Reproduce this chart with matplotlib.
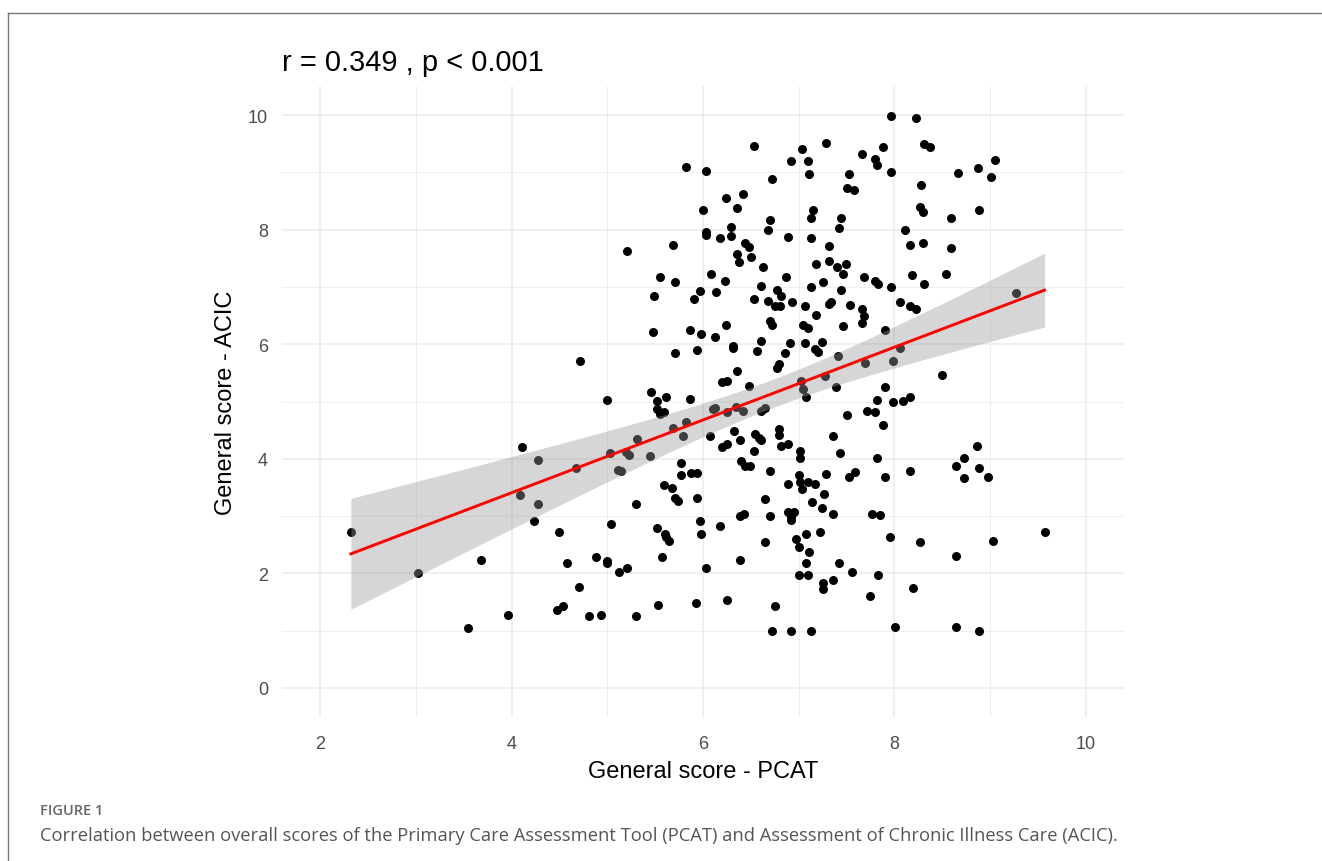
import numpy as np
import matplotlib
matplotlib.use('Agg')
import matplotlib.pyplot as plt
from matplotlib.lines import Line2D

# Pontos (PCAT, ACIC)
pcat = [2.32, 3.02, 3.54, 3.68, 3.96, 4.11, 4.28, 4.09, 4.28, 4.23, 4.50, 4.58, 4.47, 4.54,
        5.82, 6.03, 6.24, 6.00, 6.03, 6.03, 6.18, 5.69, 5.21, 6.08, 6.23, 5.55, 5.71, 6.14,
        5.97, 5.49, 5.91,
        5.48, 5.86, 5.98, 6.13, 6.24, 5.71, 5.94, 4.71, 5.00, 5.46, 5.52, 5.61, 5.52, 5.55,
        5.59, 5.86, 6.10, 6.13, 6.20, 6.25, 5.69, 5.82, 5.79, 6.07, 6.20, 6.25, 5.31, 5.20,
        5.23, 5.03, 5.45, 4.67, 5.11, 5.14, 5.77, 5.77, 5.87, 5.94, 5.59, 5.68, 5.71, 5.74,
        5.94, 5.30,
        5.04, 5.52, 5.60, 5.61, 5.64, 5.97, 5.98, 6.18, 4.88, 5.00, 5.00, 5.12, 5.21, 5.57,
        6.03, 4.70, 4.81, 4.93, 5.30, 5.53, 5.93, 6.25,
        6.53, 7.03, 7.29, 6.92, 7.10, 7.66, 7.80, 7.82, 7.11, 7.53, 6.72, 7.50, 7.58, 6.42,
        6.36, 7.15, 7.13, 7.44, 7.42, 6.70, 6.68, 6.29, 6.29, 6.89, 7.13, 7.32, 6.44, 6.48,
        6.36, 6.38, 6.50, 6.63, 7.18, 7.32, 7.40, 7.46, 7.49, 7.68, 7.80, 7.83, 6.87, 6.61,
        7.25, 7.13, 6.77, 6.82, 7.44, 6.53, 6.68, 6.93, 7.34, 7.32,
        6.75, 6.80, 7.07, 7.54, 7.66, 7.68, 7.66, 6.70, 6.72, 7.04, 7.10, 7.18, 7.46, 6.31,
        6.31, 6.61, 6.56, 6.91, 6.86, 7.07, 7.24, 7.17, 7.20, 7.41, 7.69, 6.79, 6.77, 6.36,
        6.48, 7.02, 7.05, 7.08, 7.27, 7.39, 7.82, 6.25, 6.35, 6.42, 6.61, 6.65, 7.71, 7.80,
        7.50, 6.32, 6.39, 6.53, 6.54, 6.59, 6.61, 6.79, 6.79, 6.82, 6.89, 7.01, 7.01, 7.36,
        7.43, 7.82, 6.40, 6.44, 6.49, 6.70, 7.00, 7.01, 7.03, 7.10, 7.17, 7.29, 7.53, 7.59,
        6.89, 7.26, 6.65, 7.14,
        7.24, 6.39, 6.43, 6.70, 6.89, 6.95, 6.92, 6.92, 7.36, 7.77, 7.85, 6.65, 7.08, 7.22,
        6.97, 7.00, 7.11, 6.39, 7.08, 7.42, 7.56, 7.00, 7.10, 7.36, 7.25, 7.25, 7.83, 6.75,
        7.75, 6.72, 6.92, 7.13,
        7.96, 8.23, 7.88, 8.31, 8.37, 7.97, 8.66, 8.87, 9.05, 9.01, 8.28, 8.27, 8.30, 8.59,
        8.88, 8.11, 8.16, 8.30, 8.59, 7.97, 8.18, 8.31, 8.54, 9.27, 8.06,
        8.16, 8.23, 7.90, 8.06, 7.99, 8.50, 7.90, 7.99, 8.09, 8.16, 7.88, 7.90, 8.16, 8.86,
        8.73, 8.64, 8.73, 8.88, 8.98,
        7.95, 8.27, 8.64, 9.03, 9.57, 8.19, 8.01, 8.64, 8.88]

acic = [2.72, 2.00, 1.05, 2.23, 1.28, 4.21, 3.98, 3.37, 3.21, 2.92, 2.72, 2.18, 1.36, 1.43,
        9.09, 9.03, 8.55, 8.35, 7.96, 7.91, 7.86, 7.74, 7.63, 7.22, 7.11, 7.17, 7.08, 6.91,
        6.93, 6.85, 6.79,
        6.22, 6.25, 6.17, 6.13, 6.34, 5.85, 5.90, 5.70, 5.02, 5.16, 5.01, 5.07, 4.87, 4.78,
        4.81, 5.04, 4.87, 4.88, 5.34, 5.36, 4.54, 4.65, 4.39, 4.39, 4.21, 4.25, 4.34, 4.12,
        4.07, 4.10, 4.04, 3.84, 3.81, 3.78, 3.93, 3.72, 3.75, 3.75, 3.55, 3.49, 3.31, 3.27,
        3.32, 3.21,
        2.86, 2.80, 2.69, 2.63, 2.57, 2.91, 2.69, 2.83, 2.29, 2.21, 2.18, 2.03, 2.09, 2.29,
        2.09, 1.77, 1.26, 1.28, 1.26, 1.45, 1.48, 1.54,
        9.46, 9.41, 9.52, 9.20, 9.20, 9.32, 9.23, 9.13, 8.97, 8.97, 8.89, 8.72, 8.69, 8.63,
        8.37, 8.35, 8.20, 8.20, 8.03, 8.16, 8.00, 8.04, 7.89, 7.88, 7.85, 7.72, 7.76, 7.69,
        7.57, 7.43, 7.52, 7.34, 7.40, 7.46, 7.34, 7.23, 7.40, 7.17, 7.11, 7.05, 7.17, 7.02,
        7.08, 6.99, 6.95, 6.84, 6.95, 6.79, 6.76, 6.74, 6.74, 6.70,
        6.66, 6.66, 6.66, 6.68, 6.61, 6.50, 6.37, 6.41, 6.34, 6.34, 6.28, 6.51, 6.31, 5.97,
        5.93, 6.05, 5.88, 6.02, 5.85, 6.02, 6.03, 5.92, 5.87, 5.79, 5.68, 5.65, 5.58, 5.54,
        5.27, 5.36, 5.21, 5.07, 5.44, 5.25, 5.03, 4.81, 4.90, 4.84, 4.84, 4.88, 4.84, 4.81,
        4.76, 4.49, 4.32, 4.14, 4.43, 4.37, 4.33, 4.52, 4.42, 4.22, 4.25, 4.14, 4.01, 4.39,
        4.10, 4.01, 3.96, 3.88, 3.87, 3.78, 3.71, 3.59, 3.47, 3.59, 3.56, 3.73, 3.68, 3.77,
        3.56, 3.39, 3.30, 3.24,
        3.14, 3.01, 3.04, 3.01, 3.07, 3.07, 2.98, 2.94, 3.04, 3.04, 3.02, 2.55, 2.69, 2.72,
        2.60, 2.46, 2.38, 2.23, 2.18, 2.18, 2.03, 1.97, 1.97, 1.89, 1.83, 1.72, 1.97, 1.43,
        1.60, 0.99, 0.99, 0.99,
        9.98, 9.95, 9.44, 9.49, 9.44, 9.01, 8.98, 9.07, 9.21, 8.92, 8.78, 8.39, 8.31, 8.20,
        8.35, 8.00, 7.74, 7.77, 7.68, 6.99, 7.20, 7.05, 7.23, 6.89, 6.74,
        6.66, 6.61, 6.25, 5.93, 5.71, 5.47, 5.25, 4.99, 5.01, 5.07, 4.59, 3.69, 3.78, 4.22,
        4.01, 3.87, 3.66, 3.84, 3.69,
        2.63, 2.54, 2.31, 2.57, 2.72, 1.74, 1.06, 1.06, 0.99]

titulo = 'r = 0.349 , p < 0.001'
x_ticks = [2, 4, 6, 8, 10]
y_ticks = [0, 2, 4, 6, 8, 10]

x = np.array(pcat)
y = np.array(acic)

# Regressão linear com intervalo de confiança de 95% (como geom_smooth(method = "lm"))
n = len(x)
b, a = np.polyfit(x, y, 1)
resid = y - (a + b * x)
s = np.sqrt(np.sum(resid ** 2) / (n - 2))
sxx = np.sum((x - x.mean()) ** 2)
xs = np.linspace(x.min(), x.max(), 200)
fit = a + b * xs
se = s * np.sqrt(1 / n + (xs - x.mean()) ** 2 / sxx)
t = 1.968

fig = plt.figure(figsize=(13.22, 8.62), dpi=100)
ax = fig.add_axes([282 / 1322, 1 - 717.6 / 862, (1124 - 282) / 1322, (717.6 - 87.4) / 862])

ax.scatter(x, y, s=42, color='black', linewidths=0, zorder=3)
ax.fill_between(xs, fit - t * se, fit + t * se, color='#999999', alpha=0.4, linewidth=0, zorder=4)
ax.plot(xs, fit, color='red', lw=2.1, zorder=5)

ax.set_xlim(1.6, 10.4)
ax.set_ylim(-0.5, 10.5)
ax.set_xticks(x_ticks)
ax.set_yticks(y_ticks)
ax.set_xticks([3, 5, 7, 9], minor=True)
ax.set_yticks([1, 3, 5, 7, 9], minor=True)
ax.grid(which='major', color='#EBEBEB', lw=1.1)
ax.grid(which='minor', color='#EBEBEB', lw=0.6)
ax.set_axisbelow(True)
for sp in ax.spines.values():
    sp.set_visible(False)
ax.tick_params(which='both', length=0, labelsize=13, labelcolor='#4D4D4D', pad=10)
ax.tick_params(axis='x', pad=13)

fonte = 'Liberation Sans'
for lab in ax.get_xticklabels() + ax.get_yticklabels():
    lab.set_family(fonte)
ax.set_xlabel('General score - PCAT', fontsize=17, family=fonte, labelpad=6)
ax.set_ylabel('General score - ACIC', fontsize=17, family=fonte, labelpad=8)
ax.set_title(titulo, fontsize=21, family=fonte, loc='left', pad=12)

# Moldura e legenda da figura
fig.add_artist(Line2D([8 / 1322, 1], [1 - 14 / 862, 1 - 14 / 862], color='#777777', lw=1))
fig.add_artist(Line2D([8 / 1322, 8 / 1322], [0, 1 - 14 / 862], color='#777777', lw=1))
fig.text(40 / 1322, 1 - 811 / 862, 'FIGURE 1', fontsize=10.5, color='#666666',
         family='Open Sans', weight='semibold', va='center')
fig.text(40 / 1322, 1 - 836 / 862,
         'Correlation between overall scores of the Primary Care Assessment Tool (PCAT) '
         'and Assessment of Chronic Illness Care (ACIC).',
         fontsize=13.2, color='#555555', family='Open Sans', va='center')

fig.savefig('out.png', dpi=100)
